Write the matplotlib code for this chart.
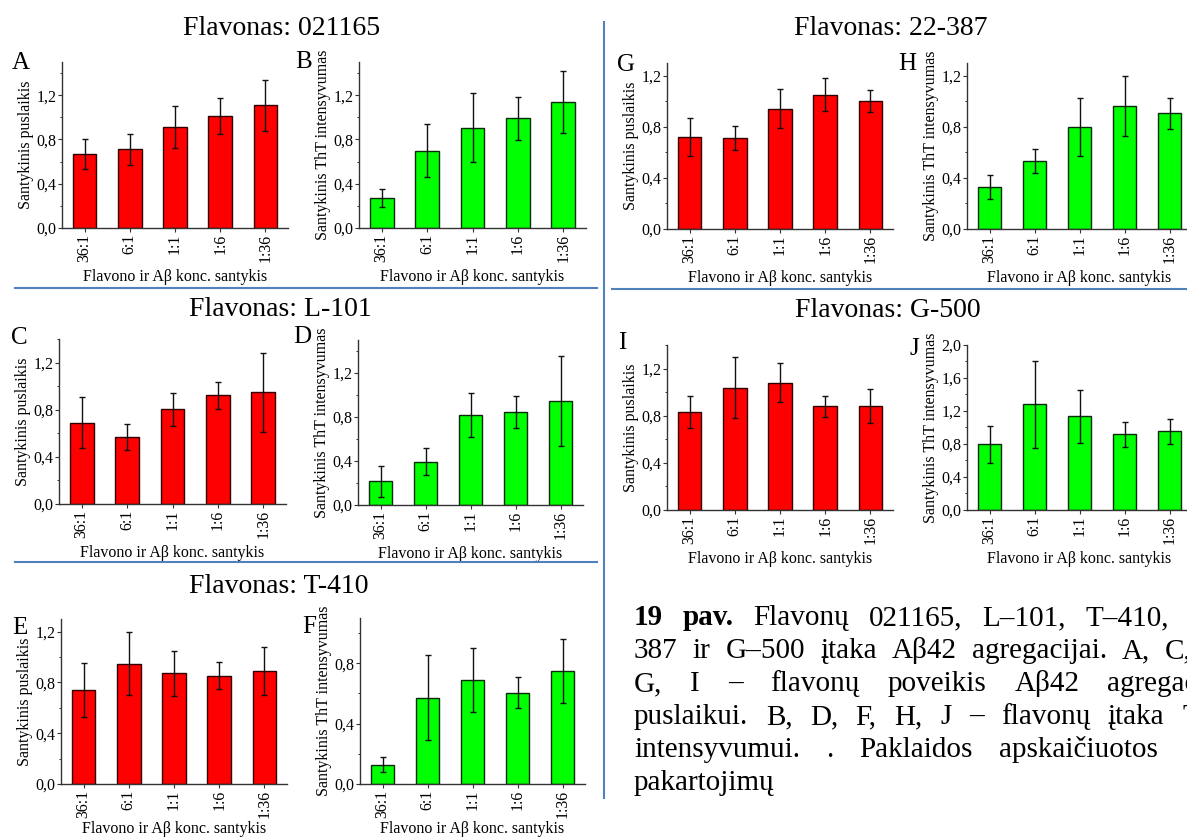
import numpy as np
import matplotlib
matplotlib.use("Agg")
import matplotlib.pyplot as plt
from matplotlib.lines import Line2D

plt.rcParams['font.family'] = ['Liberation Serif', 'DejaVu Serif']

W, H = 1187, 838

ratios = ["36:1", "6:1", "1:1", "1:6", "1:36"]

# A, C, E, G, I - relative half-life (red); B, D, F, H, J - relative ThT intensity (green)
a_vals = [0.665, 0.713, 0.915, 1.01, 1.11]
a_err = [0.135, 0.14, 0.19, 0.165, 0.23]
b_vals = [0.27, 0.697, 0.907, 0.993, 1.137]
b_err = [0.08, 0.24, 0.31, 0.195, 0.28]

c_vals = [0.689, 0.570, 0.803, 0.922, 0.948]
c_err = [0.217, 0.11, 0.14, 0.116, 0.336]
d_vals = [0.215, 0.394, 0.822, 0.846, 0.949]
d_err = [0.138, 0.12, 0.2, 0.143, 0.41]

e_vals = [0.742, 0.949, 0.871, 0.852, 0.889]
e_err = [0.212, 0.25, 0.178, 0.106, 0.19]
f_vals = [0.127, 0.573, 0.691, 0.604, 0.749]
f_err = [0.05, 0.28, 0.213, 0.103, 0.21]

g_vals = [0.72, 0.71, 0.941, 1.053, 1.004]
g_err = [0.152, 0.095, 0.152, 0.13, 0.085]
h_vals = [0.33, 0.53, 0.797, 0.962, 0.907]
h_err = [0.095, 0.095, 0.225, 0.236, 0.122]

i_vals = [0.834, 1.038, 1.081, 0.879, 0.879]
i_err = [0.136, 0.26, 0.165, 0.092, 0.144]
j_vals = [0.795, 1.28, 1.135, 0.917, 0.953]
j_err = [0.228, 0.53, 0.323, 0.153, 0.148]

titles = ["Flavonas: 021165", "Flavonas: L-101", "Flavonas: T-410",
          "Flavonas: 22-387", "Flavonas: G-500"]

RED = "#ff0000"
GREEN = "#00ff00"
BLUE = "#4f81bd"
RED_EDGE = "#300000"
GREEN_EDGE = "#0a2a0a"
lab_red = "Santykinis puslaikis"
lab_green = "Santykinis ThT intensyvumas"
xlab = "Flavono ir A\u03b2 konc. santykis"

fig = plt.figure(figsize=(W / 100, H / 100), dpi=100)


def fx(x):
    return x / W


def fy(y):
    return 1 - y / H


def panel(box, vals, errs, color, edge, ylabel, ymax, letter, lpos, xlab_off=41):
    # box in pixels: left, top, right, bottom (top-left origin)
    x0, y0, x1, y1 = box
    ax = fig.add_axes([fx(x0), fy(y1), (x1 - x0) / W, (y1 - y0) / H])
    x = np.arange(len(ratios))
    ax.bar(x, vals, width=0.52, color=color, edgecolor=edge, linewidth=1,
           yerr=errs, error_kw=dict(ecolor="#111111", elinewidth=1,
                                    capsize=2, capthick=1))
    ax.set_xlim(-0.5, 4.5)
    ax.set_ylim(0, ymax)
    ax.set_xticks(x)
    ax.set_xticklabels(ratios, rotation=90)
    major = np.arange(0, ymax + 1e-9, 0.4)
    ax.set_yticks(major)
    ax.set_yticks(np.arange(0, ymax + 1e-9, 0.2), minor=True)
    ax.set_yticklabels([f"{v:.1f}".replace(".", ",") for v in major])
    for s in ("top", "right"):
        ax.spines[s].set_visible(False)
    for s in ("left", "bottom"):
        ax.spines[s].set_color("#333333")
        ax.spines[s].set_linewidth(1)
    ax.tick_params(axis="both", which="major", direction="out", length=3,
                   width=0.8, pad=1, labelsize=11.5, color="#333333")
    ax.tick_params(axis="y", which="minor", direction="out", length=1.8,
                   width=0.7, color="#333333")
    ax.set_ylabel(ylabel, fontsize=11.5)
    ax.set_xlabel(xlab, fontsize=11.5)
    ax.yaxis.set_label_coords(-28 / (x1 - x0), 0.5)
    ax.xaxis.set_label_coords(0.5, -xlab_off / (y1 - y0))
    fig.text(fx(lpos[0]), fy(lpos[1]), letter, fontsize=18,
             ha="left", va="baseline")
    return ax


panel((62, 62, 288, 228), a_vals, a_err, RED, RED_EDGE, lab_red, 1.5, "A", (12, 69))
panel((359, 62, 586, 228), b_vals, b_err, GREEN, GREEN_EDGE, lab_green, 1.5, "B", (295, 68))
panel((59, 339, 286, 504), c_vals, c_err, RED, RED_EDGE, lab_red, 1.4, "C", (11, 344))
panel((358, 340, 583, 505), d_vals, d_err, GREEN, GREEN_EDGE, lab_green, 1.5, "D", (293, 343))
panel((61, 619, 287, 784), e_vals, e_err, RED, RED_EDGE, lab_red, 1.3, "E", (12, 634), 37)
panel((360, 618, 585, 784), f_vals, f_err, GREEN, GREEN_EDGE, lab_green, 1.1, "F", (302, 633), 37)
panel((667, 63, 893, 229), g_vals, g_err, RED, RED_EDGE, lab_red, 1.3, "G", (617, 71))
panel((967, 63, 1192, 229), h_vals, h_err, GREEN, GREEN_EDGE, lab_green, 1.3, "H", (898, 70))
panel((667, 345, 893, 510), i_vals, i_err, RED, RED_EDGE, lab_red, 1.4, "I", (618, 349))
panel((967, 345, 1192, 510), j_vals, j_err, GREEN, GREEN_EDGE, lab_green, 2.0, "J", (910, 355))

# group titles
for t, (tx, ty) in zip(titles, [(282, 35), (280, 316), (279, 593), (891, 35), (888, 317)]):
    fig.text(fx(tx), fy(ty), t, fontsize=20, ha="center", va="baseline")

# blue separators
seps = [((15, 597), (288, 288)), ((15, 597), (562, 562)),
        ((612, 1187), (289, 289)), ((604, 604), (22, 798))]
for xs, ys in seps:
    fig.add_artist(Line2D([fx(v) for v in xs], [fy(v) for v in ys],
                          transform=fig.transFigure, color=BLUE, lw=1.5))

# caption: justified column that runs past the right edge of the page
renderer = fig.canvas.get_renderer()
CAP_LEFT = 634


def caption_line(y, words, right=1232, bold_n=0, gap=None):
    texts = []
    for k, w in enumerate(words):
        t = fig.text(0, fy(y), w, fontsize=21, ha="left", va="baseline",
                     fontweight="bold" if k < bold_n else "normal")
        texts.append(t)
    widths = [t.get_window_extent(renderer).width for t in texts]
    if gap is None:
        gap = (right - CAP_LEFT - sum(widths)) / max(len(words) - 1, 1)
    x = CAP_LEFT
    for t, wd in zip(texts, widths):
        t.set_x(fx(x))
        x += wd + gap


caption_line(625, ["19", "pav.", "Flavonų", "021165,", "L–101,", "T–410,", "22–"], bold_n=2)
caption_line(658, ["387", "ir", "G–500", "įtaka", "Aβ42", "agregacijai.", "A,", "C,", "E,"])
caption_line(691, ["G,", "I", "–", "flavonų", "poveikis", "Aβ42", "agregacijos"], right=1240)
caption_line(724, ["puslaikui.", "B,", "D,", "F,", "H,", "J", "–", "flavonų", "įtaka", "ThT"])
caption_line(757, ["intensyvumui.", ".", "Paklaidos", "apskaičiuotos"], gap=26)
caption_line(790, ["pakartojimų"], gap=0)

fig.savefig("out.png", dpi=100)
